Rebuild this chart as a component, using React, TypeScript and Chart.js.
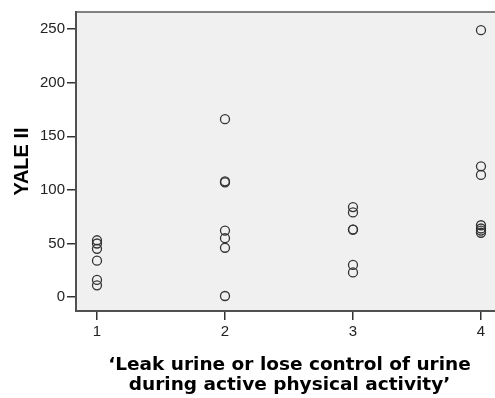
import React, { useEffect, useRef } from "react";
import { Chart, registerables } from "chart.js";

Chart.register(...registerables);

// Category positions on the x axis and tick labels
const xTicks = [1, 2, 3, 4];
const yTicks = [0, 50, 100, 150, 200, 250];

// YALE II values per category
const group1 = [53, 50, 45, 34, 16, 11];
const group2 = [166, 108, 107, 62, 55, 46, 1];
const group3 = [84, 79, 63, 63, 30, 23];
const group4 = [249, 122, 114, 67, 64, 62, 60];
const groups = [group1, group2, group3, group4];

const yTitle = "YALE II";
const xTitle = [
  "\u2018Leak urine or lose control of urine",
  "during active physical activity\u2019",
];

const framePlugin = {
  id: "frame",
  beforeDraw(chart: any) {
    const { ctx, chartArea: a } = chart;
    ctx.save();
    ctx.fillStyle = "#f0f0f0";
    ctx.fillRect(a.left, a.top, a.right - a.left, a.bottom - a.top);
    ctx.restore();
  },
  afterDraw(chart: any) {
    const { ctx, chartArea: a } = chart;
    ctx.save();
    ctx.lineWidth = 2;
    ctx.strokeStyle = "#808080";
    ctx.beginPath();
    ctx.moveTo(a.left, a.top);
    ctx.lineTo(a.right, a.top);
    ctx.stroke();
    ctx.strokeStyle = "#505050";
    ctx.beginPath();
    ctx.moveTo(a.left, a.top - 1);
    ctx.lineTo(a.left, a.bottom);
    ctx.lineTo(a.right, a.bottom);
    ctx.stroke();
    ctx.restore();
  },
};

export default function App() {
  const ref = useRef<HTMLCanvasElement | null>(null);

  useEffect(() => {
    if (!ref.current) return;
    const points: { x: number; y: number }[] = [];
    groups.forEach((g, i) => {
      g.forEach((v) => points.push({ x: xTicks[i], y: v }));
    });

    const tickFont = { family: "'Liberation Sans', Arial, sans-serif", size: 15 };

    const chart = new Chart(ref.current, {
      type: "scatter",
      data: {
        datasets: [
          {
            data: points,
            pointStyle: "circle",
            pointRadius: 4.5,
            pointBorderWidth: 1.3,
            pointBorderColor: "#333333",
            pointBackgroundColor: "rgba(0,0,0,0)",
            showLine: false,
          },
        ],
      },
      options: {
        animation: false,
        responsive: false,
        layout: { autoPadding: false, padding: { top: 12, right: 8, left: 0, bottom: 0 } },
        plugins: {
          legend: { display: false },
          tooltip: { enabled: false },
        },
        scales: {
          x: {
            type: "linear",
            min: 0.836,
            max: 4.172,
            afterBuildTicks: (s: any) => {
              s.ticks = xTicks.map((v) => ({ value: v }));
            },
            afterFit: (s: any) => {
              s.height = 87;
              s.paddingLeft = 0;
              s.paddingRight = 0;
            },
            grid: {
              drawOnChartArea: false,
              drawTicks: true,
              tickLength: 9,
              color: "#333333",
              lineWidth: 1.5,
            },
            border: { display: false },
            ticks: {
              font: tickFont,
              color: "#222222",
              padding: 3,
              maxRotation: 0,
              callback: (v: any) => String(v),
            },
            title: {
              display: true,
              text: xTitle,
              color: "#000000",
              font: { family: "'DejaVu Sans', sans-serif", weight: "bold", size: 18.5, lineHeight: 1.06 },
              padding: { top: 0, bottom: 3 },
            },
          },
          y: {
            type: "linear",
            min: -13,
            max: 266,
            afterBuildTicks: (s: any) => {
              s.ticks = yTicks.map((v) => ({ value: v }));
            },
            afterFit: (s: any) => {
              s.width = 76;
              s.paddingTop = 0;
              s.paddingBottom = 0;
            },
            grid: {
              drawOnChartArea: false,
              drawTicks: true,
              tickLength: 9,
              color: "#333333",
              lineWidth: 1.5,
            },
            border: { display: false },
            ticks: {
              font: tickFont,
              color: "#222222",
              padding: 2,
              callback: (v: any) => String(v),
            },
            title: {
              display: true,
              text: yTitle,
              color: "#000000",
              font: { family: "'Liberation Sans', Arial, sans-serif", weight: "bold", size: 20, lineHeight: 1.2 },
              padding: { top: 10, bottom: 0 },
            },
          },
        },
      },
      plugins: [framePlugin],
    });
    return () => chart.destroy();
  }, []);

  return (
    <div
      style={{
        position: "fixed",
        left: 0,
        top: 0,
        width: 495,
        height: 398,
        overflow: "hidden",
        background: "#ffffff",
      }}
    >
      <canvas ref={ref} width={511} height={398} style={{ display: "block" }} />
    </div>
  );
}
